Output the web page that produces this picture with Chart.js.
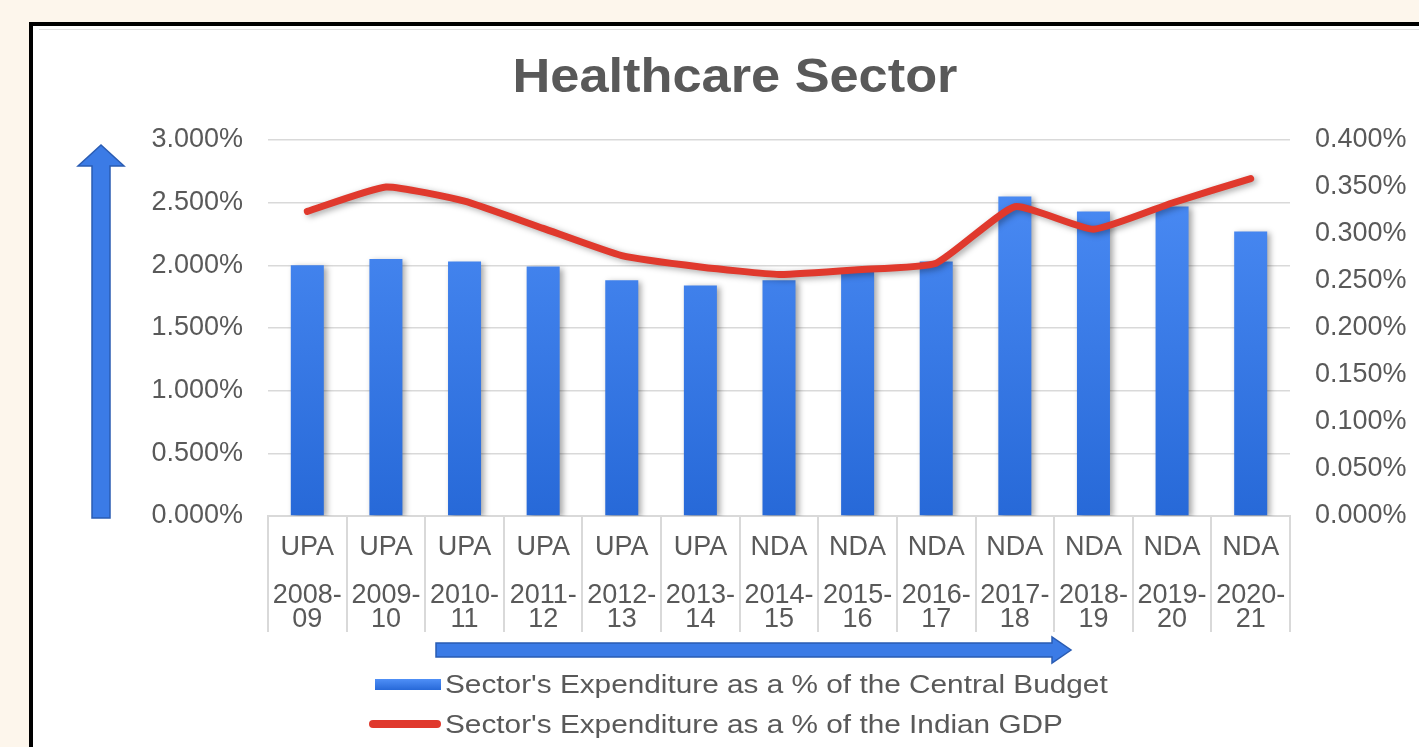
<!DOCTYPE html>
<html>
<head>
<meta charset="utf-8">
<script src="https://cdn.jsdelivr.net/npm/chart.js@4.4.1/dist/chart.umd.min.js"></script>
<style>
  html, body { margin: 0; padding: 0; background: #fdf6ec; width: 1419px; height: 747px; overflow: hidden; }
  .box { position: absolute; left: 29px; top: 22px; width: 1430px; height: 760px; background: #fff; border: 4px solid #000; }
  .box:after { content: ''; position: absolute; left: 6px; right: 0; top: 3px; height: 1px; background: #e2e2e2; }
  #chart { position: absolute; left: 0; top: 0; }
  .legend { position: absolute; left: 0; top: 0; font-family: "Liberation Sans", Arial, sans-serif; color: #595959; font-size: 26px; }
  .legend .row { position: absolute; white-space: nowrap; transform-origin: left center; transform: scaleX(1.145); }
  .legend .sw { position: absolute; }
</style>
</head>
<body>
<div class="box"></div>
<canvas id="chart" width="1419" height="747"></canvas>
<div class="legend">
  <div class="sw" style="left:375px;top:679px;width:66px;height:11px;background:linear-gradient(#4f8ff7,#2769d8);"></div>
  <div class="row" style="left:445px;top:669px;">Sector's Expenditure as a % of the Central Budget</div>
  <div class="sw" style="left:369px;top:720px;width:72px;height:8px;border-radius:4px;background:#e0392d;"></div>
  <div class="row" style="left:445px;top:709px;">Sector's Expenditure as a % of the Indian GDP</div>
</div>
<script>
// dados
const categories = ['2008-09', '2009-10', '2010-11', '2011-12', '2012-13', '2013-14', '2014-15',
                    '2015-16', '2016-17', '2017-18', '2018-19', '2019-20', '2020-21'];
const parties = ['UPA', 'UPA', 'UPA', 'UPA', 'UPA', 'UPA', 'NDA', 'NDA', 'NDA', 'NDA', 'NDA', 'NDA', 'NDA'];
const budgetShare = [2.00, 2.05, 2.03, 1.99, 1.88, 1.84, 1.88, 1.95, 2.03, 2.55, 2.43, 2.47, 2.27];
const gdpShare = [0.324, 0.350, 0.335, 0.306, 0.277, 0.265, 0.257, 0.262, 0.269, 0.329, 0.305, 0.333, 0.359];
const leftTicks = [0, 0.5, 1, 1.5, 2, 2.5, 3];
const rightTicks = [0, 0.05, 0.1, 0.15, 0.2, 0.25, 0.3, 0.35, 0.4];

const labels = categories.map((c, i) => [parties[i], '', c.slice(0, 5), c.slice(5)]);
const textColor = '#595959';
const tickFont = { family: '"Liberation Sans", Arial, sans-serif', size: 27 };

// título e setas decorativas
const decor = {
    id: 'decor',
    beforeDatasetDraw(chart, args) {
        const c = chart.ctx;
        c.save();
        c.shadowColor = 'rgba(0,0,0,0.35)';
        c.shadowBlur = 6;
        c.shadowOffsetX = 3;
        c.shadowOffsetY = 2;
    },
    afterDatasetDraw(chart) {
        chart.ctx.restore();
    },
    afterDraw(chart) {
        const c = chart.ctx;
        const a = chart.chartArea;
        c.save();
        c.fillStyle = textColor;
        c.font = 'bold 48px "Liberation Sans", Arial, sans-serif';
        c.textAlign = 'center';
        c.textBaseline = 'alphabetic';
        c.translate(735, 92);
        c.scale(1.09, 1);
        c.fillText('Healthcare Sector', 0, 0);
        c.restore();

        c.save();
        c.fillStyle = '#3b7be6';
        c.strokeStyle = '#2a5cb3';
        c.lineWidth = 1.5;
        // seta vertical
        c.beginPath();
        c.moveTo(92, a.bottom + 2);
        c.lineTo(92, 166);
        c.lineTo(78, 166);
        c.lineTo(101, 145);
        c.lineTo(124, 166);
        c.lineTo(110, 166);
        c.lineTo(110, a.bottom + 2);
        c.closePath();
        c.fill();
        c.stroke();
        // seta horizontal
        c.beginPath();
        c.moveTo(436, 643);
        c.lineTo(1052, 643);
        c.lineTo(1052, 637);
        c.lineTo(1071, 650);
        c.lineTo(1052, 663);
        c.lineTo(1052, 657);
        c.lineTo(436, 657);
        c.closePath();
        c.fill();
        c.stroke();
        c.restore();
    }
};

new Chart(document.getElementById('chart'), {
    type: 'bar',
    data: {
        labels: labels,
        datasets: [{
            type: 'line',
            label: "Sector's Expenditure as a % of the Indian GDP",
            data: gdpShare,
            yAxisID: 'y1',
            borderColor: '#e0392d',
            borderWidth: 7,
            borderCapStyle: 'round',
            borderJoinStyle: 'round',
            pointRadius: 0,
            tension: 0.15,
            order: 0
        }, {
            label: "Sector's Expenditure as a % of the Central Budget",
            data: budgetShare,
            yAxisID: 'y',
            backgroundColor: function(ctx) {
                const area = ctx.chart.chartArea;
                if (!area) return '#3b7ff0';
                const g = ctx.chart.ctx.createLinearGradient(0, area.top, 0, area.bottom);
                g.addColorStop(0, '#4f8ff7');
                g.addColorStop(1, '#2769d8');
                return g;
            },
            categoryPercentage: 1,
            barPercentage: 0.42,
            order: 1
        }]
    },
    options: {
        responsive: false,
        animation: false,
        layout: { padding: { top: 140, left: 0, right: 0, bottom: 0 } },
        plugins: {
            legend: { display: false },
            title: { display: false },
            tooltip: { enabled: false }
        },
        scales: {
            x: {
                offset: true,
                border: { display: true, color: '#d9d9d9', width: 2 },
                grid: { offset: true, drawOnChartArea: false, tickLength: 116, color: '#d9d9d9', lineWidth: 2 },
                ticks: {
                    color: textColor,
                    font: Object.assign({ lineHeight: 24 / 27 }, tickFont),
                    padding: -96,
                    maxRotation: 0,
                    autoSkip: false
                },
                afterFit(scale) { scale.height = 231; }
            },
            y: {
                position: 'left',
                min: leftTicks[0],
                max: leftTicks[leftTicks.length - 1],
                afterBuildTicks(scale) { scale.ticks = leftTicks.map(v => ({ value: v })); },
                border: { display: false },
                grid: { color: '#d9d9d9', lineWidth: 1.5, drawTicks: false },
                ticks: {
                    color: textColor,
                    font: tickFont,
                    padding: 25,
                    callback: v => v.toFixed(3) + '%'
                },
                afterFit(scale) { scale.width = 268; }
            },
            y1: {
                position: 'right',
                min: rightTicks[0],
                max: rightTicks[rightTicks.length - 1],
                afterBuildTicks(scale) { scale.ticks = rightTicks.map(v => ({ value: v })); },
                border: { display: false },
                grid: { drawOnChartArea: false, drawTicks: false },
                ticks: {
                    color: textColor,
                    font: tickFont,
                    padding: 25,
                    callback: v => v.toFixed(3) + '%'
                },
                afterFit(scale) { scale.width = 129; }
            }
        }
    },
    plugins: [decor]
});
</script>
</body>
</html>
